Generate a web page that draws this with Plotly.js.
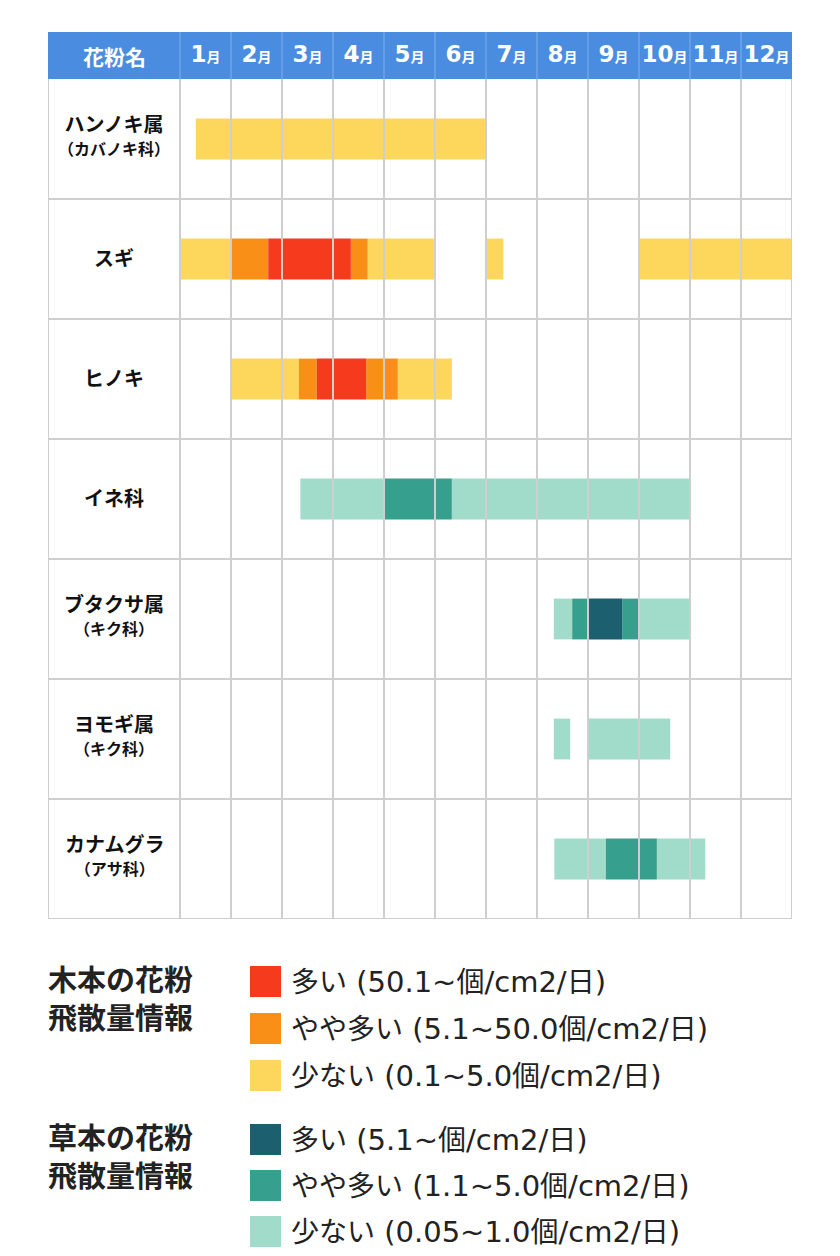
<!DOCTYPE html>
<html><head><meta charset="utf-8">
<script src="https://cdn.plot.ly/plotly-3.0.1.min.js"></script>
<style>html,body{margin:0;padding:0;background:#fff;} #chart{width:840px;height:1256px;}</style>
</head><body><div id="chart"></div>
<script>
// ---------- data ----------
const headerLabel = "花粉名";
const monthLabels = ["1","2","3","4","5","6","7","8","9","10","11","12"];
const monthSuffix = "月";
const pollenNames = ["ハンノキ属","スギ","ヒノキ","イネ科","ブタクサ属","ヨモギ属","カナムグラ"];
const pollenFamilies = ["カバノキ科","","","","キク科","キク科","アサ科"];

// segments in month units (0 = start of January, 12 = end of December)
const treeLowRows  = [0,   1,   1,    1,    1,    2,   2];
const treeLowStart = [0.31,0.0, 3.68, 6.0,  9.0,  1.0, 4.27];
const treeLowEnd   = [6.0, 1.0, 5.0,  6.34, 12.0, 2.33,5.33];
const treeMidRows  = [1,   1,   2,   2];
const treeMidStart = [1.0, 3.35,2.33,3.65];
const treeMidEnd   = [1.73,3.68,2.68,4.27];
const treeHighRows  = [1,   2];
const treeHighStart = [1.73,2.68];
const treeHighEnd   = [3.35,3.65];
const grassLowRows  = [3,   3,   4,   4,   5,   5,   6,   6];
const grassLowStart = [2.36,5.33,7.33,9.0, 7.33,7.98,7.34,9.35];
const grassLowEnd   = [4.02,10.0,7.69,10.0,7.65,9.61,8.35,10.3];
const grassMidRows  = [3,   4,   4,   6];
const grassMidStart = [4.02,7.69,8.67,8.35];
const grassMidEnd   = [5.33,8.02,9.0, 9.35];
const grassHighRows  = [4];
const grassHighStart = [8.02];
const grassHighEnd   = [8.67];

const treeLegendTitle = ["木本の花粉","飛散量情報"];
const treeLevelLabels = ["多い (50.1~個/cm2/日)","やや多い (5.1~50.0個/cm2/日)","少ない (0.1~5.0個/cm2/日)"];
const grassLegendTitle = ["草本の花粉","飛散量情報"];
const grassLevelLabels = ["多い (5.1~個/cm2/日)","やや多い (1.1~5.0個/cm2/日)","少ない (0.05~1.0個/cm2/日)"];

// ---------- style ----------
const CJK = "Noto Sans CJK JP";
const LATIN = "DejaVu Sans";
const treeColors = ["#f63a1e","#f98f17","#fdd65c"];   // high, mid, low
const grassColors = ["#1c5f6f","#379f8e","#a1dccb"];
const GRID = "#cfcfcf";
const HEADER = "#4a8de0";
const W = 840, H = 1256;
const M = {l:48, r:48, t:79, b:337};
const plotW = W - M.l - M.r, plotH = H - M.t - M.b;
const LABEL_COL = 132/51;     // label column width in month units
const HEADER_H = 47;          // px
const px = x => (x - M.l)/plotW;
const py = y => (H - M.b - y)/plotH;
const cjkSpan = (s, size) => s.replace(/([\u3000-\u9fff\uff00-\uffef]+)/g, "<span style='font-size:"+size+"px'>$1</span>");

function barTrace(rows, starts, ends, color){
  return {
    type:"bar", orientation:"h",
    y: rows, base: starts, x: ends.map((e,i)=>e-starts[i]),
    width: 0.34, marker:{color:color, line:{width:0}},
    showlegend:false, hoverinfo:"skip"
  };
}
const traces = [
  barTrace(treeLowRows, treeLowStart, treeLowEnd, treeColors[2]),
  barTrace(treeMidRows, treeMidStart, treeMidEnd, treeColors[1]),
  barTrace(treeHighRows, treeHighStart, treeHighEnd, treeColors[0]),
  barTrace(grassLowRows, grassLowStart, grassLowEnd, grassColors[2]),
  barTrace(grassMidRows, grassMidStart, grassMidEnd, grassColors[1]),
  barTrace(grassHighRows, grassHighStart, grassHighEnd, grassColors[0])
];

const shapes = [];
const annotations = [];
// header band
shapes.push({type:"rect", xref:"x", yref:"paper", x0:-LABEL_COL, x1:12, y0:1, y1:1+HEADER_H/plotH,
  fillcolor:HEADER, line:{width:0}, layer:"below"});
for (let k=0;k<12;k++){
  shapes.push({type:"line", xref:"x", yref:"paper", x0:k, x1:k, y0:1, y1:1+HEADER_H/plotH,
    line:{color:"#7eb0ec", width:1}, layer:"below"});
}
// grid: vertical
[-LABEL_COL].concat(monthLabels.map((m,i)=>i)).concat([12]).forEach(k=>{
  shapes.push({type:"line", xref:"x", yref:"paper", x0:k, x1:k, y0:0, y1:1,
    line:{color:GRID, width:2}, layer:"above"});
});
// grid: horizontal
pollenNames.forEach((n,i)=>{
  shapes.push({type:"line", xref:"x", yref:"y", x0:-LABEL_COL, x1:12, y0:i+0.5, y1:i+0.5,
    line:{color:GRID, width:2}, layer:"above"});
});
// header label
annotations.push({xref:"x", yref:"paper", x:-LABEL_COL/2, y:1+HEADER_H/2/plotH, text:headerLabel,
  showarrow:false, xanchor:"center", yanchor:"middle", font:{family:CJK, size:21, color:"#fff", weight:"bold"}});
// row labels
pollenNames.forEach((n,i)=>{
  const fam = pollenFamilies[i];
  const txt = fam ? "<span style='font-size:20px'>"+n+"</span><br><span style='font-size:16px'>（"+fam+"）</span>" : n;
  annotations.push({xref:"x", yref:"y", x:-LABEL_COL/2, y:i, yshift: fam ? 5 : 2, text:txt, showarrow:false,
    xanchor:"center", yanchor:"middle", align:"center",
    font:{family:CJK, size: fam ? 18 : 20, color:"#111", weight:"bold"}});
});
// legends
function legendGroup(titleLines, labels, colors, titleCenter, itemTop, pitch){
  annotations.push({xref:"paper", yref:"paper", x:px(46), y:py(titleCenter), text:titleLines.join("<br>"), showarrow:false,
    xanchor:"left", yanchor:"middle", align:"left", font:{family:CJK, size:29, color:"#222", weight:"bold"}});
  labels.forEach((lab,j)=>{
    const top = itemTop + j*pitch;
    shapes.push({type:"rect", xref:"paper", yref:"paper", x0:px(250), x1:px(281), y0:py(top), y1:py(top+31),
      fillcolor:colors[j], line:{width:0}});
    annotations.push({xref:"paper", yref:"paper", x:px(289), y:py(top+15.5), text:cjkSpan(lab, 28), showarrow:false,
      xanchor:"left", yanchor:"middle", font:{family:LATIN+", "+CJK, size:29, color:"#222"}});
  });
}
legendGroup(treeLegendTitle, treeLevelLabels, treeColors, 997, 966, 47);
legendGroup(grassLegendTitle, grassLevelLabels, grassColors, 1155, 1124, 46);

const layout = {
  width:W, height:H, margin:M, paper_bgcolor:"#fff", plot_bgcolor:"#fff",
  barmode:"overlay", showlegend:false,
  xaxis:{range:[-LABEL_COL,12], side:"top", tickmode:"array",
    tickvals:monthLabels.map((m,i)=>i+0.5),
    ticktext:monthLabels.map(m=>m+"<span style='font-size:14px;font-family:\""+CJK+"\"'>"+monthSuffix+"</span>"),
    ticks:"", ticklabelstandoff:11, showgrid:false, zeroline:false, showline:false,
    tickfont:{family:LATIN, size:23, color:"#fff", weight:"bold"}, fixedrange:true},
  yaxis:{range:[6.5,-0.5], showticklabels:false, showgrid:false, zeroline:false, showline:false, ticks:"", fixedrange:true},
  shapes:shapes, annotations:annotations
};
Plotly.newPlot("chart", traces, layout, {displayModeBar:false, staticPlot:true});
</script></body></html>
